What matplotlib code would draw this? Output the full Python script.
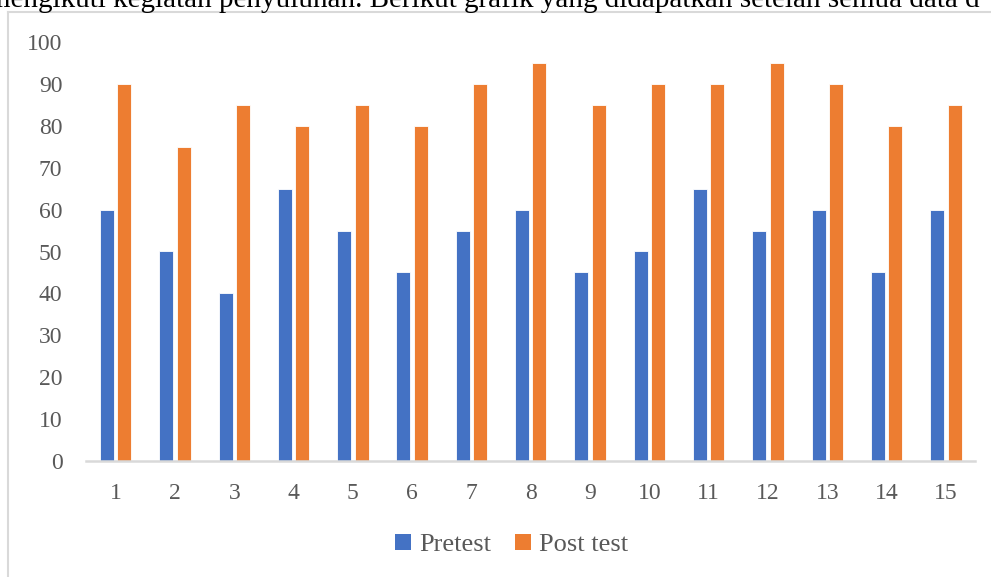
import matplotlib
matplotlib.use("Agg")
import matplotlib.pyplot as plt
import numpy as np
from matplotlib.patches import Patch
from matplotlib.lines import Line2D

categories = [str(i) for i in range(1, 16)]
pretest = [60, 50, 40, 65, 55, 45, 55, 60, 45, 50, 65, 55, 60, 45, 60]
posttest = [90, 75, 85, 80, 85, 80, 90, 95, 85, 90, 90, 95, 90, 80, 85]
yticks = [0, 10, 20, 30, 40, 50, 60, 70, 80, 90, 100]
series_names = ["Pretest", "Post test"]
top_text = "mengikuti kegiatan penyuluhan. Berikut grafik yang didapatkan setelah semua data d"

W, H = 991, 577
fig = plt.figure(figsize=(W / 100, H / 100), dpi=100)
font = "Liberation Serif"
tcol = "#595959"

# chart border (light gray)
fig.add_artist(Line2D([8 / W, 8 / W], [0, 1 - 12 / H], color="#d9d9d9", lw=1.5))
fig.add_artist(Line2D([8 / W, 1], [1 - 12 / H, 1 - 12 / H], color="#d9d9d9", lw=1.5))

# clipped document text above the chart
fig.text(-12 / W, 1 - 7 / H, top_text, fontsize=21, family=font, color="black",
         ha="left", va="baseline")

ax = fig.add_axes([86 / W, 1 - 461 / H, (975.5 - 86) / W, (461 - 42) / H])
x = np.arange(len(categories))
bw = 0.235
off = 0.147
ax.bar(x - off, pretest, width=bw, color="#4472C4", edgecolor="white", linewidth=0.6)
ax.bar(x + off, posttest, width=bw, color="#ED7D31", edgecolor="white", linewidth=0.6)

ax.set_xlim(-0.5, len(categories) - 0.5)
ax.set_ylim(0, 100)
ax.set_yticks(yticks)
ax.set_yticklabels([str(v) for v in yticks])
ax.set_xticks(x)
ax.set_xticklabels(categories)
for s in ["top", "right", "left"]:
    ax.spines[s].set_visible(False)
ax.spines["bottom"].set_color("#d9d9d9")
ax.spines["bottom"].set_linewidth(1.8)
ax.tick_params(axis="both", length=0, labelsize=17, labelcolor=tcol)
ax.tick_params(axis="y", pad=17)
ax.tick_params(axis="x", pad=16)
for lbl in ax.get_xticklabels() + ax.get_yticklabels():
    lbl.set_family(font)

handles = [Patch(facecolor="#4472C4", edgecolor="none"),
           Patch(facecolor="#ED7D31", edgecolor="none")]
fig.legend(handles, series_names, loc="center", bbox_to_anchor=(511.5 / W, 1 - 545 / H),
           ncol=2, frameon=False, prop={"family": font, "size": 19},
           labelcolor=tcol, handlelength=0.6, handleheight=0.6, handletextpad=0.3,
           columnspacing=0.9)

fig.savefig("out.png", dpi=100)
